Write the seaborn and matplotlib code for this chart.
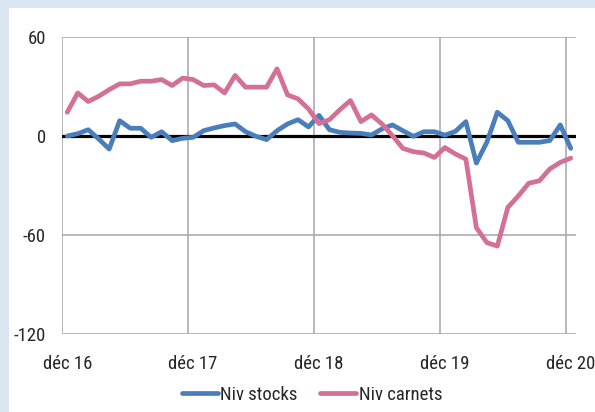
import matplotlib
matplotlib.use("Agg")
import matplotlib.pyplot as plt
import seaborn as sns
import numpy as np
import pandas as pd

# mois de déc 16 à déc 20
mois = list(range(49))
etiquettes = ["déc 16", "déc 17", "déc 18", "déc 19", "déc 20"]

niv_stocks = [0, 1.4, 3.8, -1.8, -7.9, 9.3, 4.7, 4.7, -0.8, 2.6, -2.8, -1.4,
              -0.8, 3.2, 4.9, 6.3, 7.3, 2.6, -0.2, -2.2, 3.2, 7.3, 9.9, 5.5,
              12.5, 3.8, 2.2, 1.8, 1.6, 0.6, 4.3, 6.7, 3.2, -0.2, 2.6, 2.6,
              0.5, 2.8, 8.7, -16.4, -3.8, 14.4, 9.3, -3.8, -3.8, -3.8, -2.8, 6.7,
              -7.5]
niv_carnets = [14.4, 26.1, 20.9, 24.1, 28.1, 31.6, 31.6, 33.2, 33.2, 34.2, 30.6, 35.1,
               34.2, 30.6, 31.0, 26.1, 36.7, 29.6, 29.6, 29.6, 40.7, 24.9, 22.5, 16.4,
               7.5, 9.9, 16.0, 21.5, 8.7, 12.8, 7.3, 0.2, -7.5, -9.5, -10.3, -13.0,
               -7.0, -10.9, -14.0, -55.5, -64.6, -66.7, -43.3, -36.3, -28.6, -27.2, -20.0, -16.0,
               -13.4]

df = pd.DataFrame({
    "mois": mois * 2,
    "valeur": niv_stocks + niv_carnets,
    "serie": ["Niv stocks"] * 49 + ["Niv carnets"] * 49,
})

sns.set_style("white")
plt.rcParams["font.family"] = ["Roboto Condensed", "Liberation Sans Narrow", "DejaVu Sans"]
plt.rcParams["font.stretch"] = "condensed"
plt.rcParams["font.size"] = 13.5

fig = plt.figure(figsize=(5.95, 4.12), dpi=100)
fig.patch.set_facecolor("#dce6f2")
# panneau blanc
fig.add_artist(plt.Rectangle((9 / 595, 0), 1, 1 - 8 / 412, transform=fig.transFigure,
                             facecolor="white", edgecolor="none", zorder=0))
ax = fig.add_axes([62 / 595, 1 - 334 / 412, (576 - 62) / 595, (334 - 37) / 412])
ax.set_facecolor("white")

ax.axhline(0, color="black", lw=2.3, zorder=2)
sns.lineplot(data=df, x="mois", y="valeur", hue="serie",
             palette={"Niv stocks": "#4a7ebb", "Niv carnets": "#d46f96"},
             lw=3.4, ax=ax, zorder=3, legend=True)

ax.set_xlim(-0.5, 48.5)
ax.set_ylim(-120, 60)
ax.set_yticks([60, 0, -60, -120])
ax.set_yticklabels(["60", "0", "-60", "-120"])
ax.set_xticks([0, 12, 24, 36, 48])
ax.set_xticklabels(etiquettes)
ax.set_xticks([-0.5, 11.5, 23.5, 35.5, 47.5], minor=True)
ax.tick_params(axis="x", which="both", length=0, pad=15)
ax.tick_params(axis="y", length=4.5, color="#a6a6a6", width=1, pad=7)
for v in [60, -60, -120]:
    ax.axhline(v, color="#a6a6a6", lw=1.1, zorder=1)
ax.grid(True, which="minor", axis="x", color="#a6a6a6", lw=1.1)
ax.set_axisbelow(True)
for s in ax.spines.values():
    s.set_visible(False)
ax.set_xlabel("")
ax.set_ylabel("")

ax.get_legend().remove()
handles, labels = ax.get_legend_handles_labels()
fig.legend(handles, labels, loc="center", bbox_to_anchor=(312 / 595, 1 - 395 / 412),
           ncol=2, frameon=False, handlelength=1.9, handletextpad=0.15,
           columnspacing=1.2, borderpad=0)

fig.savefig("out.png", dpi=100, facecolor=fig.get_facecolor())
